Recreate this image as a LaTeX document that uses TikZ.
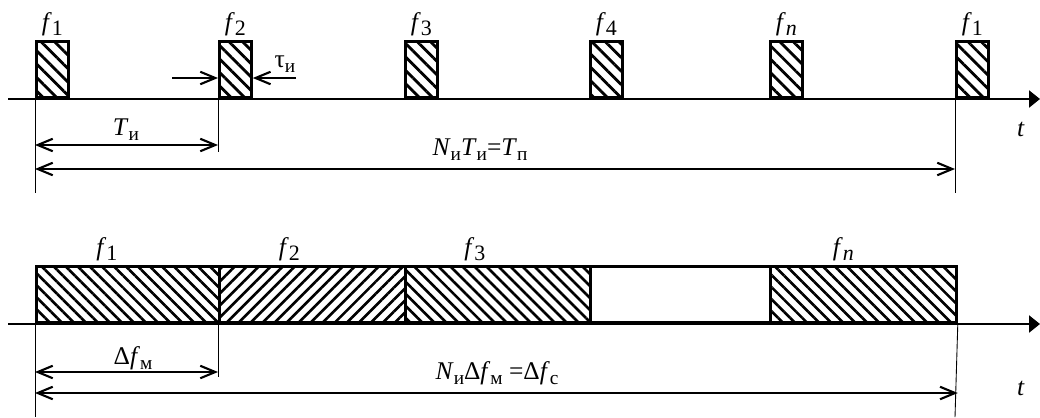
\documentclass[tikz,border=0pt]{standalone}
\usepackage{fontspec}
\setmainfont{Liberation Serif}
\usetikzlibrary{positioning,arrows.meta,patterns.meta}
\newcommand\ix[1]{\raisebox{-0.4ex}{\fontsize{12.5}{13}\selectfont#1}}
\newcommand\cy[1]{\raisebox{-0.45ex}{\fontsize{11}{12}\selectfont#1}}

\begin{document}
\begin{tikzpicture}[x=0.02cm,y=-0.02cm,font=\fontsize{14.5}{16}\selectfont,
  pulse/.style={draw,line width=1.6pt,anchor=south west,inner sep=0pt,minimum width=0.64cm,minimum height=1.12cm,
    pattern={Lines[angle=-45,distance=0.19cm,line width=1.6pt]}},
  band/.style={draw,line width=1.6pt,anchor=south west,inner sep=0pt,minimum height=1.12cm},
  back/.style={pattern={Lines[angle=-45,distance=0.17cm,line width=1.5pt]}},
  fwd/.style={pattern={Lines[angle=45,distance=0.17cm,line width=1.5pt]}},
  axis/.style={line width=1.3pt,-{Triangle[length=0.22cm,width=0.34cm]}},
  dim/.style={line width=1.2pt,{Straight Barb[length=0.3cm,width=0.25cm]}-{Straight Barb[length=0.3cm,width=0.25cm]}},
  tip/.style={line width=1.2pt,-{Straight Barb[length=0.3cm,width=0.25cm]}},
  ext/.style={line width=0.5pt}]
\useasboundingbox (0,0) rectangle (1040,417);
% ---------- top: pulse train ----------
\coordinate (a0) at (8,99);
\coordinate (a1) at (1040,99);
\draw[axis] (a0) -- (a1);
\foreach \x/\lab [count=\i] in {35/1,218/2,404/3,589/4,769/\textit{n},955/1}{
  \node[pulse] (p\i) at (\x,99) {};
  \node[above=-1pt of p\i] (lp\i) {\textit{f}\ix{\lab}};
}
\node (t1) at (1021,129) {\textit{t}};
% pulse length
\coordinate (tl) at (172,78);
\coordinate (tr) at (296,78);
\draw[tip] (tl) -- (tl -| p2.west);
\draw[tip] (tr) -- (tr -| p2.east);
\node (tau) at (285,64) {τ\cy{и}};
% period and cycle
\coordinate (e1) at (35,193);
\coordinate (e2) at (218,152);
\coordinate (e6) at (955,193);
\draw[ext] (p1.south west) -- (e1);
\draw[ext] (p2.south west) -- (e2);
\draw[ext] (p6.south west) -- (e6);
\coordinate (ty) at (0,145);
\coordinate (ny) at (0,169);
\draw[dim] (p1.south west |- ty) -- (p2.south west |- ty);
\draw[dim] (p1.south west |- ny) -- (p6.south west |- ny);
\node (Ti) at (126,130) {\textit{T}\cy{и}};
\node (Tp) at (480,150) {\textit{N}\cy{и}\textit{T}\cy{и}=\textit{T}\cy{п}};
% ---------- bottom: band split ----------
\coordinate (c0) at (8,324);
\coordinate (c1) at (1040,324);
\draw[axis] (c0) -- (c1);
\node[band,back,minimum width=3.66cm] (b1) at (35,324) {};
\node[band,fwd,minimum width=3.72cm] (b2) at (218,324) {};
\node[band,back,minimum width=3.70cm] (b3) at (404,324) {};
\node[band,minimum width=3.60cm] (b4) at (589,324) {};
\node[band,back,minimum width=3.72cm] (b5) at (769,324) {};
\node[above=-1pt of b1,xshift=-0.42cm] (lb1) {\textit{f}\ix{1}};
\node[above=-1pt of b2,xshift=-0.46cm] (lb2) {\textit{f}\ix{2}};
\node[above=-1pt of b3,xshift=-0.46cm] (lb3) {\textit{f}\ix{3}};
\node[above=-1pt of b5,xshift=-0.40cm] (lb5) {\textit{f}\ix{\textit{n}}};
\node (t2) at (1021,388) {\textit{t}};
\coordinate (g1) at (35,417);
\coordinate (g2) at (218,377);
\coordinate (g6) at (955,417);
\draw[ext] (b1.south west) -- (g1);
\draw[ext] (b2.south west) -- (g2);
\draw[ext] (b5.south east) -- (g6);
\coordinate (my) at (0,372);
\coordinate (sy) at (0,393);
\draw[dim] (b1.south west |- my) -- (b2.south west |- my);
\draw[dim] (b1.south west |- sy) -- (b5.south east |- sy);
\node (df) at (133,358) {Δ\textit{f}\cy{м}};
\node (Nf) at (497,373) {\textit{N}\cy{и}Δ\textit{f}\cy{м} =Δ\textit{f}\cy{с}};
\end{tikzpicture}
\end{document}
